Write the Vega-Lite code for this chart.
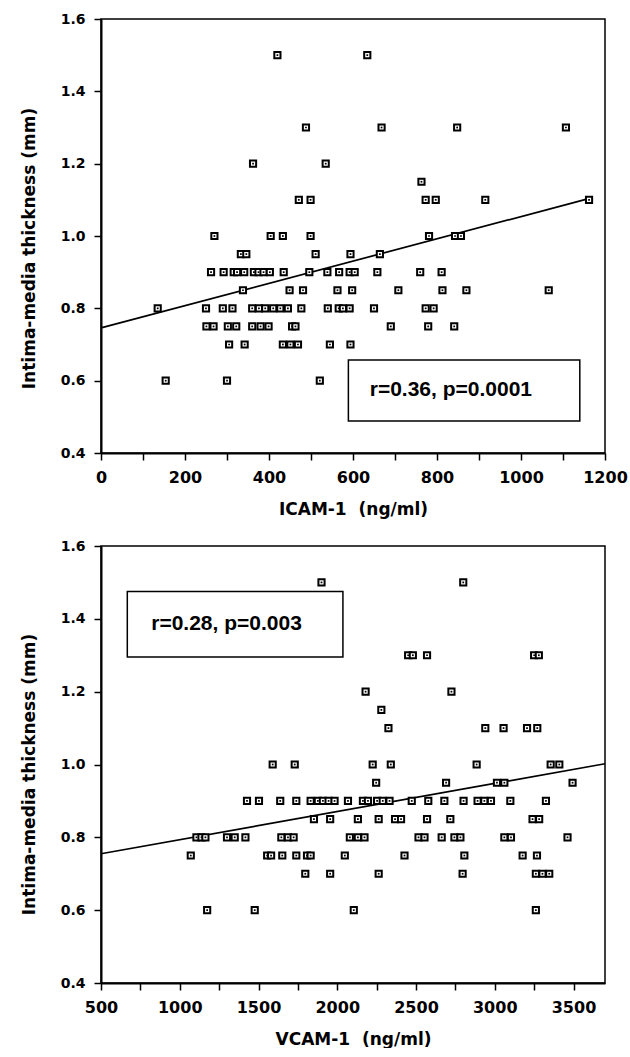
{
  "$schema": "https://vega.github.io/schema/vega-lite/v6.json",
  "background": "white",
  "padding": {"left": 19, "top": 11, "right": 10, "bottom": 0},
  "spacing": 20,
  "config": {
    "view": {"stroke": "black", "strokeWidth": 1.5},
    "axis": {
      "domainColor": "black", "domainWidth": 2, "tickColor": "black", "tickWidth": 1.5, "tickSize": 7,
      "grid": false, "labelColor": "black", "titleColor": "black",
      "labelFont": "DejaVu Sans", "labelFontWeight": "bold",
      "titleFont": "DejaVu Sans", "titleFontWeight": "bold", "titleFontSize": 17,
      "labelOverlap": false, "labelBound": false, "labelFlush": false
    },
    "axisX": {"labelFontSize": 16, "labelPadding": 9, "titlePadding": 16},
    "axisY": {"labelFontSize": 14, "labelPadding": 9, "titlePadding": 22}
  },
  "datasets": {
    "icam": [
      {"icam": 420, "imt": 1.5}, {"icam": 634, "imt": 1.5},
      {"icam": 488, "imt": 1.3}, {"icam": 668, "imt": 1.3}, {"icam": 848, "imt": 1.3}, {"icam": 1107, "imt": 1.3},
      {"icam": 362, "imt": 1.2}, {"icam": 535, "imt": 1.2},
      {"icam": 763, "imt": 1.15},
      {"icam": 471, "imt": 1.1}, {"icam": 499, "imt": 1.1}, {"icam": 773, "imt": 1.1}, {"icam": 797, "imt": 1.1}, {"icam": 915, "imt": 1.1}, {"icam": 1162, "imt": 1.1},
      {"icam": 270, "imt": 1.0}, {"icam": 404, "imt": 1.0}, {"icam": 433, "imt": 1.0}, {"icam": 499, "imt": 1.0}, {"icam": 781, "imt": 1.0}, {"icam": 843, "imt": 1.0}, {"icam": 857, "imt": 1.0},
      {"icam": 333, "imt": 0.95}, {"icam": 346, "imt": 0.95}, {"icam": 511, "imt": 0.95}, {"icam": 594, "imt": 0.95}, {"icam": 664, "imt": 0.95},
      {"icam": 262, "imt": 0.9}, {"icam": 292, "imt": 0.9}, {"icam": 316, "imt": 0.9}, {"icam": 324, "imt": 0.9}, {"icam": 341, "imt": 0.9}, {"icam": 364, "imt": 0.9}, {"icam": 375, "imt": 0.9}, {"icam": 387, "imt": 0.9}, {"icam": 402, "imt": 0.9}, {"icam": 435, "imt": 0.9}, {"icam": 496, "imt": 0.9}, {"icam": 539, "imt": 0.9}, {"icam": 567, "imt": 0.9}, {"icam": 592, "imt": 0.9}, {"icam": 604, "imt": 0.9}, {"icam": 658, "imt": 0.9}, {"icam": 760, "imt": 0.9}, {"icam": 811, "imt": 0.9},
      {"icam": 338, "imt": 0.85}, {"icam": 449, "imt": 0.85}, {"icam": 481, "imt": 0.85}, {"icam": 563, "imt": 0.85}, {"icam": 598, "imt": 0.85}, {"icam": 708, "imt": 0.85}, {"icam": 813, "imt": 0.85}, {"icam": 870, "imt": 0.85}, {"icam": 1066, "imt": 0.85},
      {"icam": 135, "imt": 0.8}, {"icam": 250, "imt": 0.8}, {"icam": 290, "imt": 0.8}, {"icam": 313, "imt": 0.8}, {"icam": 360, "imt": 0.8}, {"icam": 376, "imt": 0.8}, {"icam": 391, "imt": 0.8}, {"icam": 410, "imt": 0.8}, {"icam": 427, "imt": 0.8}, {"icam": 445, "imt": 0.8}, {"icam": 477, "imt": 0.8}, {"icam": 540, "imt": 0.8}, {"icam": 566, "imt": 0.8}, {"icam": 576, "imt": 0.8}, {"icam": 592, "imt": 0.8}, {"icam": 650, "imt": 0.8}, {"icam": 773, "imt": 0.8}, {"icam": 792, "imt": 0.8},
      {"icam": 251, "imt": 0.75}, {"icam": 268, "imt": 0.75}, {"icam": 302, "imt": 0.75}, {"icam": 322, "imt": 0.75}, {"icam": 360, "imt": 0.75}, {"icam": 380, "imt": 0.75}, {"icam": 399, "imt": 0.75}, {"icam": 455, "imt": 0.75}, {"icam": 463, "imt": 0.75}, {"icam": 690, "imt": 0.75}, {"icam": 779, "imt": 0.75}, {"icam": 841, "imt": 0.75},
      {"icam": 305, "imt": 0.7}, {"icam": 342, "imt": 0.7}, {"icam": 433, "imt": 0.7}, {"icam": 451, "imt": 0.7}, {"icam": 469, "imt": 0.7}, {"icam": 545, "imt": 0.7}, {"icam": 594, "imt": 0.7},
      {"icam": 154, "imt": 0.6}, {"icam": 300, "imt": 0.6}, {"icam": 521, "imt": 0.6}
    ],
    "vcam": [
      {"vcam": 1900, "imt": 1.5}, {"vcam": 2800, "imt": 1.5},
      {"vcam": 2450, "imt": 1.3}, {"vcam": 2480, "imt": 1.3}, {"vcam": 2570, "imt": 1.3}, {"vcam": 3250, "imt": 1.3}, {"vcam": 3280, "imt": 1.3},
      {"vcam": 2180, "imt": 1.2}, {"vcam": 2725, "imt": 1.2},
      {"vcam": 2280, "imt": 1.15},
      {"vcam": 2325, "imt": 1.1}, {"vcam": 2940, "imt": 1.1}, {"vcam": 3056, "imt": 1.1}, {"vcam": 3205, "imt": 1.1}, {"vcam": 3270, "imt": 1.1},
      {"vcam": 1590, "imt": 1.0}, {"vcam": 1730, "imt": 1.0}, {"vcam": 2225, "imt": 1.0}, {"vcam": 2340, "imt": 1.0}, {"vcam": 2885, "imt": 1.0}, {"vcam": 3355, "imt": 1.0}, {"vcam": 3410, "imt": 1.0},
      {"vcam": 2247, "imt": 0.95}, {"vcam": 2691, "imt": 0.95}, {"vcam": 3014, "imt": 0.95}, {"vcam": 3061, "imt": 0.95}, {"vcam": 3494, "imt": 0.95},
      {"vcam": 1427, "imt": 0.9}, {"vcam": 1503, "imt": 0.9}, {"vcam": 1638, "imt": 0.9}, {"vcam": 1740, "imt": 0.9}, {"vcam": 1831, "imt": 0.9}, {"vcam": 1877, "imt": 0.9}, {"vcam": 1909, "imt": 0.9}, {"vcam": 1945, "imt": 0.9}, {"vcam": 1983, "imt": 0.9}, {"vcam": 2068, "imt": 0.9}, {"vcam": 2163, "imt": 0.9}, {"vcam": 2195, "imt": 0.9}, {"vcam": 2253, "imt": 0.9}, {"vcam": 2289, "imt": 0.9}, {"vcam": 2332, "imt": 0.9}, {"vcam": 2473, "imt": 0.9}, {"vcam": 2578, "imt": 0.9}, {"vcam": 2680, "imt": 0.9}, {"vcam": 2802, "imt": 0.9}, {"vcam": 2891, "imt": 0.9}, {"vcam": 2934, "imt": 0.9}, {"vcam": 2976, "imt": 0.9}, {"vcam": 3099, "imt": 0.9}, {"vcam": 3325, "imt": 0.9},
      {"vcam": 1852, "imt": 0.85}, {"vcam": 1955, "imt": 0.85}, {"vcam": 2131, "imt": 0.85}, {"vcam": 2263, "imt": 0.85}, {"vcam": 2367, "imt": 0.85}, {"vcam": 2405, "imt": 0.85}, {"vcam": 2570, "imt": 0.85}, {"vcam": 2718, "imt": 0.85}, {"vcam": 3240, "imt": 0.85}, {"vcam": 3282, "imt": 0.85},
      {"vcam": 1106, "imt": 0.8}, {"vcam": 1138, "imt": 0.8}, {"vcam": 1163, "imt": 0.8}, {"vcam": 1300, "imt": 0.8}, {"vcam": 1349, "imt": 0.8}, {"vcam": 1417, "imt": 0.8}, {"vcam": 1645, "imt": 0.8}, {"vcam": 1687, "imt": 0.8}, {"vcam": 1723, "imt": 0.8}, {"vcam": 2080, "imt": 0.8}, {"vcam": 2131, "imt": 0.8}, {"vcam": 2173, "imt": 0.8}, {"vcam": 2516, "imt": 0.8}, {"vcam": 2554, "imt": 0.8}, {"vcam": 2663, "imt": 0.8}, {"vcam": 2744, "imt": 0.8}, {"vcam": 2782, "imt": 0.8}, {"vcam": 3061, "imt": 0.8}, {"vcam": 3103, "imt": 0.8}, {"vcam": 3462, "imt": 0.8},
      {"vcam": 1070, "imt": 0.75}, {"vcam": 1555, "imt": 0.75}, {"vcam": 1580, "imt": 0.75}, {"vcam": 1651, "imt": 0.75}, {"vcam": 1740, "imt": 0.75}, {"vcam": 1808, "imt": 0.75}, {"vcam": 1831, "imt": 0.75}, {"vcam": 2048, "imt": 0.75}, {"vcam": 2427, "imt": 0.75}, {"vcam": 2807, "imt": 0.75}, {"vcam": 3177, "imt": 0.75}, {"vcam": 3268, "imt": 0.75},
      {"vcam": 1797, "imt": 0.7}, {"vcam": 1955, "imt": 0.7}, {"vcam": 2263, "imt": 0.7}, {"vcam": 2796, "imt": 0.7}, {"vcam": 3261, "imt": 0.7}, {"vcam": 3303, "imt": 0.7}, {"vcam": 3346, "imt": 0.7},
      {"vcam": 1174, "imt": 0.6}, {"vcam": 1476, "imt": 0.6}, {"vcam": 2105, "imt": 0.6}, {"vcam": 3261, "imt": 0.6}
    ],
    "icamLine": [{"icam": 0, "imt": 0.746}, {"icam": 1170, "imt": 1.106}],
    "vcamLine": [{"vcam": 500, "imt": 0.755}, {"vcam": 3700, "imt": 1.002}],
    "icamNote": [{"x0": 589, "x1": 1140, "y0": 0.4884, "y1": 0.657, "tx": 833, "ty": 0.573, "label": "r=0.36, p=0.0001"}],
    "vcamNote": [{"x0": 667, "x1": 2036, "y0": 1.295, "y1": 1.475, "tx": 1297, "ty": 1.387, "label": "r=0.28, p=0.003"}]
  },
  "vconcat": [
    {
      "width": 504,
      "height": 434,
      "layer": [
        {
          "data": {"name": "icamLine"},
          "mark": {"type": "line", "color": "black", "strokeWidth": 1.7},
          "encoding": {
            "x": {"field": "icam", "type": "quantitative", "scale": {"domain": [0, 1200], "nice": false, "zero": false},
              "axis": {"values": [0, 100, 200, 300, 400, 500, 600, 700, 800, 900, 1000, 1100, 1200], "format": "d", "labelExpr": "datum.value % 200 == 0 ? datum.label : ''", "title": "ICAM-1\u00a0 (ng/ml)"}},
            "y": {"field": "imt", "type": "quantitative", "scale": {"domain": [0.4, 1.6], "nice": false, "zero": false},
              "axis": {"values": [0.4, 0.5, 0.6, 0.7, 0.8, 0.9, 1.0, 1.1, 1.2, 1.3, 1.4, 1.5, 1.6], "format": ".1f", "labelExpr": "round(datum.value * 10) % 2 == 0 ? datum.label : ''", "title": "Intima-media thickness (mm)", "titleY": 229}}
          }
        },
        {
          "data": {"name": "icam"},
          "mark": {"type": "point", "shape": "square", "filled": false, "stroke": "black", "strokeWidth": 2, "size": 38, "opacity": 1, "fill": "white", "fillOpacity": 1},
          "encoding": {
            "x": {"field": "icam", "type": "quantitative"},
            "y": {"field": "imt", "type": "quantitative"}
          }
        },
        {
          "data": {"name": "icam"},
          "mark": {"type": "point", "shape": "square", "filled": true, "color": "black", "size": 3, "opacity": 1},
          "encoding": {
            "x": {"field": "icam", "type": "quantitative"},
            "y": {"field": "imt", "type": "quantitative"}
          }
        },
        {
          "data": {"name": "icamNote"},
          "mark": {"type": "rect", "fill": "white", "stroke": "black", "strokeWidth": 1.5},
          "encoding": {
            "x": {"field": "x0", "type": "quantitative"},
            "x2": {"field": "x1"},
            "y": {"field": "y0", "type": "quantitative"},
            "y2": {"field": "y1"}
          }
        },
        {
          "data": {"name": "icamNote"},
          "mark": {"type": "text", "font": "Liberation Sans", "fontWeight": "bold", "fontSize": 21, "color": "black", "align": "center", "baseline": "middle"},
          "encoding": {
            "x": {"field": "tx", "type": "quantitative"},
            "y": {"field": "ty", "type": "quantitative"},
            "text": {"field": "label"}
          }
        }
      ]
    },
    {
      "width": 504,
      "height": 437,
      "layer": [
        {
          "data": {"name": "vcamLine"},
          "mark": {"type": "line", "color": "black", "strokeWidth": 1.7},
          "encoding": {
            "x": {"field": "vcam", "type": "quantitative", "scale": {"domain": [500, 3700], "nice": false, "zero": false},
              "axis": {"values": [500, 750, 1000, 1250, 1500, 1750, 2000, 2250, 2500, 2750, 3000, 3250, 3500], "format": "d", "labelExpr": "datum.value % 500 == 0 ? datum.label : ''", "title": "VCAM-1\u00a0 (ng/ml)"}},
            "y": {"field": "imt", "type": "quantitative", "scale": {"domain": [0.4, 1.6], "nice": false, "zero": false},
              "axis": {"values": [0.4, 0.5, 0.6, 0.7, 0.8, 0.9, 1.0, 1.1, 1.2, 1.3, 1.4, 1.5, 1.6], "format": ".1f", "labelExpr": "round(datum.value * 10) % 2 == 0 ? datum.label : ''", "title": "Intima-media thickness (mm)", "titleY": 228}}
          }
        },
        {
          "data": {"name": "vcam"},
          "mark": {"type": "point", "shape": "square", "filled": false, "stroke": "black", "strokeWidth": 2, "size": 38, "opacity": 1, "fill": "white", "fillOpacity": 1},
          "encoding": {
            "x": {"field": "vcam", "type": "quantitative"},
            "y": {"field": "imt", "type": "quantitative"}
          }
        },
        {
          "data": {"name": "vcam"},
          "mark": {"type": "point", "shape": "square", "filled": true, "color": "black", "size": 3, "opacity": 1},
          "encoding": {
            "x": {"field": "vcam", "type": "quantitative"},
            "y": {"field": "imt", "type": "quantitative"}
          }
        },
        {
          "data": {"name": "vcamNote"},
          "mark": {"type": "rect", "fill": "white", "stroke": "black", "strokeWidth": 1.5},
          "encoding": {
            "x": {"field": "x0", "type": "quantitative"},
            "x2": {"field": "x1"},
            "y": {"field": "y0", "type": "quantitative"},
            "y2": {"field": "y1"}
          }
        },
        {
          "data": {"name": "vcamNote"},
          "mark": {"type": "text", "font": "Liberation Sans", "fontWeight": "bold", "fontSize": 21, "color": "black", "align": "center", "baseline": "middle"},
          "encoding": {
            "x": {"field": "tx", "type": "quantitative"},
            "y": {"field": "ty", "type": "quantitative"},
            "text": {"field": "label"}
          }
        }
      ]
    }
  ]
}
